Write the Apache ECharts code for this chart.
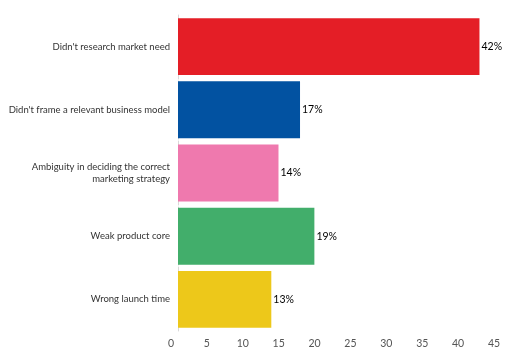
<!DOCTYPE html>
<html>
<head>
<meta charset="utf-8">
<script src="https://cdn.jsdelivr.net/npm/echarts@6/dist/echarts.min.js"></script>
<style>
  html, body { margin: 0; padding: 0; background: #fff; }
  #chart { width: 512px; height: 352px; }
</style>
</head>
<body>
<div id="chart"></div>
<script>
  // data
  var categories = [
    "Didn't research market need",
    "Didn't frame a relevant business model",
    'Ambiguity in deciding the correct\nmarketing strategy',
    'Weak product core',
    'Wrong launch time'
  ]
  var values = [42, 17, 14, 19, 13]
  var colors = ['#e41e26', '#0252a1', '#ef79ae', '#42ae6b', '#edc81a']
  var xTicks = [0, 5, 10, 15, 20, 25, 30, 35, 40, 45]

  var chart = echarts.init(document.getElementById('chart'))

  chart.setOption({
    animation: false,
    textStyle: { fontFamily: 'Lato' },
    grid: {
      left: 178,
      right: 11,
      top: 15,
      bottom: 21,
      outerBoundsMode: 'none'
    },
    xAxis: {
      type: 'value',
      min: xTicks[0],
      max: xTicks[xTicks.length - 1],
      interval: 5,
      splitLine: { show: false },
      axisLine: { show: false },
      axisTick: { show: false },
      axisLabel: {
        color: '#555',
        fontSize: 10.5,
        margin: 7,
        padding: [0, 14, 0, 0]
      }
    },
    yAxis: {
      type: 'category',
      inverse: true,
      data: categories,
      axisLine: {
        show: true,
        lineStyle: { color: '#d9d9d9', type: 'dashed', width: 1 }
      },
      axisTick: { show: false },
      axisLabel: {
        color: '#333',
        fontSize: 9.5,
        margin: 8,
        lineHeight: 12
      }
    },
    series: [
      {
        type: 'bar',
        barCategoryGap: '10%',
        data: values.map(function(v, i) {
          return {
            value: v,
            itemStyle: { color: colors[i] }
          }
        }),
        label: {
          show: true,
          position: 'right',
          distance: 2,
          color: '#000',
          fontSize: 10.5,
          formatter: '{c}%'
        }
      }
    ]
  })
</script>
</body>
</html>
